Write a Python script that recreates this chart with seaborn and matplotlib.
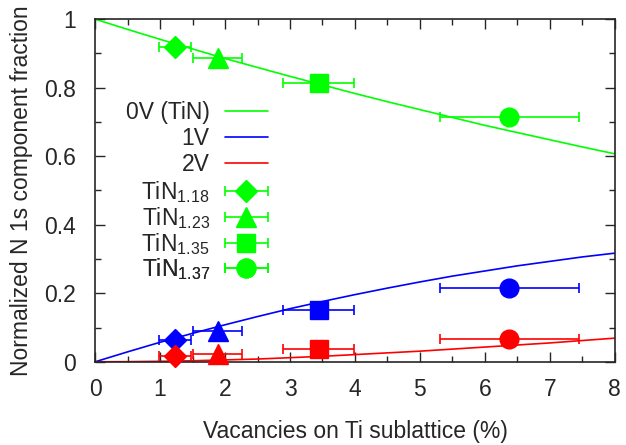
import numpy as np
import pandas as pd
import seaborn as sns
import matplotlib.pyplot as plt
from matplotlib.ticker import MultipleLocator
from matplotlib.legend_handler import HandlerErrorbar
from matplotlib.container import ErrorbarContainer

# model curves
x_curve = [0, 0.5, 1, 1.5, 2, 2.5, 3, 3.5, 4, 4.5, 5, 5.5, 6, 6.5, 7, 7.5, 8]
v0 = [1.0, 0.970, 0.941, 0.913, 0.885, 0.859, 0.833, 0.808, 0.783, 0.759, 0.736, 0.713, 0.690, 0.669, 0.648, 0.627, 0.607]
v1 = [0, 0.029, 0.057, 0.083, 0.108, 0.132, 0.155, 0.176, 0.196, 0.215, 0.233, 0.250, 0.265, 0.280, 0.293, 0.306, 0.317]
v2 = [0, 0.0004, 0.0014, 0.003, 0.0055, 0.008, 0.012, 0.016, 0.021, 0.026, 0.031, 0.037, 0.043, 0.049, 0.055, 0.062, 0.069]

# measured samples
samples = ['TiN$_{1.18}$', 'TiN$_{1.23}$', 'TiN$_{1.35}$', 'TiN$_{1.37}$']
vac = [1.23, 1.89, 3.44, 6.37]
vac_lo = [0.98, 1.50, 2.89, 5.31]
vac_hi = [1.48, 2.26, 3.98, 7.45]
frac_0v = [0.919, 0.888, 0.815, 0.714]
frac_1v = [0.065, 0.091, 0.152, 0.215]
frac_2v = [0.018, 0.023, 0.036, 0.067]
markers = ['D', '^', 's', 'o']
msizes = [11, 14.5, 13.5, 13.5]

FS = 16.5
sns.set_style('ticks')
plt.rcParams['font.family'] = ['Liberation Sans', 'DejaVu Sans']
plt.rcParams['mathtext.fontset'] = 'custom'
plt.rcParams['mathtext.rm'] = 'Liberation Sans'
plt.rcParams['mathtext.it'] = 'Liberation Sans'

fig = plt.figure(figsize=(6.26, 4.45), dpi=100)
ax = fig.add_axes([0.152, 0.187, 0.830, 0.770])

curves = pd.DataFrame({'x': x_curve, '0V (TiN)': v0, '1V': v1, '2V': v2})
cols = {'0V (TiN)': '#00ff00', '1V': '#0000ff', '2V': '#ff0000'}
handles = []
for name, c in cols.items():
    sns.lineplot(data=curves, x='x', y=name, color=c, lw=1.2, ax=ax, legend=False)
    handles.append((ax.lines[-1], name))

for fr, c in zip([frac_0v, frac_1v, frac_2v], cols.values()):
    for i in range(len(samples)):
        xe = [[vac[i] - vac_lo[i]], [vac_hi[i] - vac[i]]]
        h = ax.errorbar([vac[i]], [fr[i]], xerr=xe, fmt=markers[i], color=c,
                        ms=msizes[i], capsize=3.5, elinewidth=1.2, capthick=1.2,
                        clip_on=False, zorder=3)
        for art in h.lines[1] + h.lines[2]:
            art.set_clip_on(False)
        if c == '#00ff00':
            handles.append((h, samples[i]))

# gnuplot-like key: text right aligned, sample on the right
row_px = [112.7, 138.5, 164.7, 191.7, 218, 244, 269]
for k, (h, lab) in enumerate(handles):
    yk = (362 - row_px[k]) / 343
    leg = ax.legend([h], [lab], loc='center right', bbox_to_anchor=(0.333, yk),
                    frameon=False, markerfirst=False, fontsize=FS,
                    handlelength=1.9, handletextpad=0.65, borderpad=0,
                    borderaxespad=0,
                    handler_map={ErrorbarContainer: HandlerErrorbar(xerr_size=0.94)})
    ax.add_artist(leg)

ax.set_xlim(0, 8)
ax.set_ylim(0, 1)
ax.xaxis.set_major_locator(MultipleLocator(1))
ax.xaxis.set_minor_locator(MultipleLocator(0.5))
ax.yaxis.set_minor_locator(MultipleLocator(0.1))
ax.set_yticks([0, 0.2, 0.4, 0.6, 0.8, 1.0])
ax.set_yticklabels(['0', '0.2', '0.4', '0.6', '0.8', '1'])
ax.tick_params(which='both', direction='in', top=True, right=True, labelsize=FS, width=1)
ax.tick_params(which='major', length=7)
ax.tick_params(which='minor', length=4)
ax.tick_params(axis='x', which='major', pad=12)
ax.tick_params(axis='y', which='major', pad=14)
for s in ax.spines.values():
    s.set_linewidth(1.2)
ax.set_xlabel('Vacancies on Ti sublattice (%)', fontsize=FS, labelpad=13)
ax.set_ylabel('Normalized N 1s component fraction', fontsize=FS, labelpad=8)

fig.savefig('out.png', dpi=100)
